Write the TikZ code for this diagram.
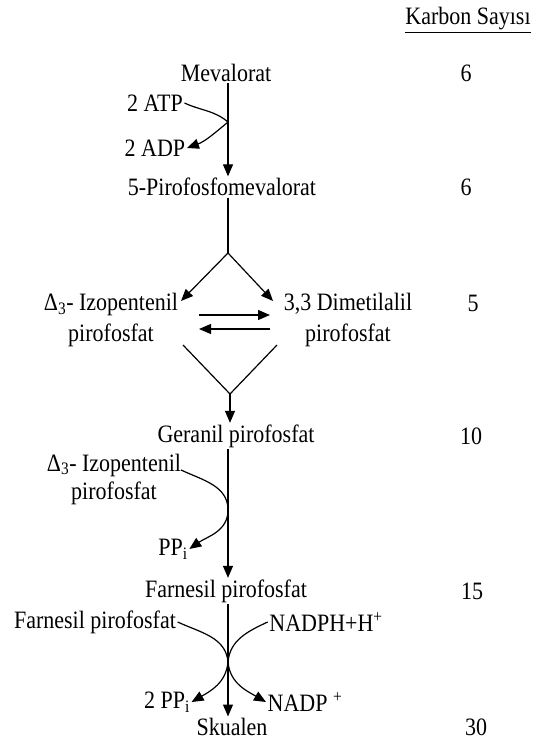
\documentclass[tikz,border=0pt]{standalone}
\usepackage{fontspec}
\setmainfont[FakeStretch=0.88]{Liberation Serif}
\usetikzlibrary{arrows.meta}
\begin{document}
\begin{tikzpicture}[x=1pt,y=-1pt,font=\fontsize{25}{27}\selectfont,inner sep=1.5pt,
  arr/.style={-{Triangle[length=12pt,width=10pt]},line width=1.2pt},
  ln/.style={line width=1.2pt}]
\useasboundingbox (0,0) rectangle (547,743);

\node (karbon) at (468,20) {\underline{Karbon Sayısı}};

\node (mev) at (226,73) {Mevalorat};
\node (c1) at (466,73) {6};
\node (atp) at (155,103) {2 ATP};
\node (adp) at (155,148) {2 ADP};
\node (pfm) at (222,187) {5-Pirofosfomevalorat};
\node (c2) at (466,187) {6};

\node[align=center] (ipp) at (111,320) {Δ\textsubscript{3}- Izopentenil\\[4pt]pirofosfat};
\node[align=center] (dma) at (348,320) {3,3 Dimetilalil\\[4pt]pirofosfat};
\node (c3) at (473,303) {5};

\node (ger) at (236,436) {Geranil pirofosfat};
\node (c4) at (471,436) {10};
\node[align=center] (ipp2) at (114,479) {Δ\textsubscript{3}- Izopentenil\\[1pt]pirofosfat};
\node (ppi) at (173,549) {PP\textsubscript{i}};

\node (far) at (226,591) {Farnesil pirofosfat};
\node (c5) at (472,591) {15};
\node (fpp) at (95,622) {Farnesil pirofosfat};
\node (nadph) at (326,622) {NADPH+H\textsuperscript{+}};
\node (ppi2) at (167,702) {2 PP\textsubscript{i}};
\node (nadp) at (305,702) {NADP \textsuperscript{+}};

\node (sku) at (232,727) {Skualen};
\node (c6) at (476,727) {30};

\coordinate (t1) at (228,122);
\coordinate (br) at (228,253);
\coordinate (ltip) at (181,301);
\coordinate (rtip) at (273,301);
\coordinate (e1) at (199,315);
\coordinate (e2) at (270,315);
\coordinate (e3) at (270,329);
\coordinate (e4) at (199,329);
\coordinate (vl) at (183,345);
\coordinate (vr) at (277,345);
\coordinate (vb) at (230,394);
\coordinate (s1) at (181,470);
\coordinate (t2) at (228,510);
\coordinate (t3) at (228,662);

\draw[arr] (mev.south -| t1) -- (t1 |- pfm.north);
\draw[arr] (atp.east) to[out=-25,in=140] (t1) to[out=-140,in=20] (adp.east);

\draw[ln] (pfm.south -| br) -- (br);
\draw[arr] (br) -- (ltip);
\draw[arr] (br) -- (rtip);
\draw[arr] (e1) -- (e2);
\draw[arr] (e3) -- (e4);
\draw[ln] (vl) -- (vb) -- (vr);
\draw[arr] (vb) -- (vb |- ger.north);

\draw[arr] (ger.south -| t2) -- (t2 |- far.north);
\draw[arr] (s1) to[out=-25,in=90] (t2) to[out=-90,in=35] (ppi.east);

\draw[arr] (far.south -| t3) -- (t3 |- sku.north);
\draw[arr] (fpp.east) to[out=-25,in=95] (t3) to[out=-95,in=30] (ppi2.east);
\draw[arr] (nadph.west) to[out=-155,in=85] (t3) to[out=-85,in=150] (nadp.west);

\end{tikzpicture}
\end{document}
